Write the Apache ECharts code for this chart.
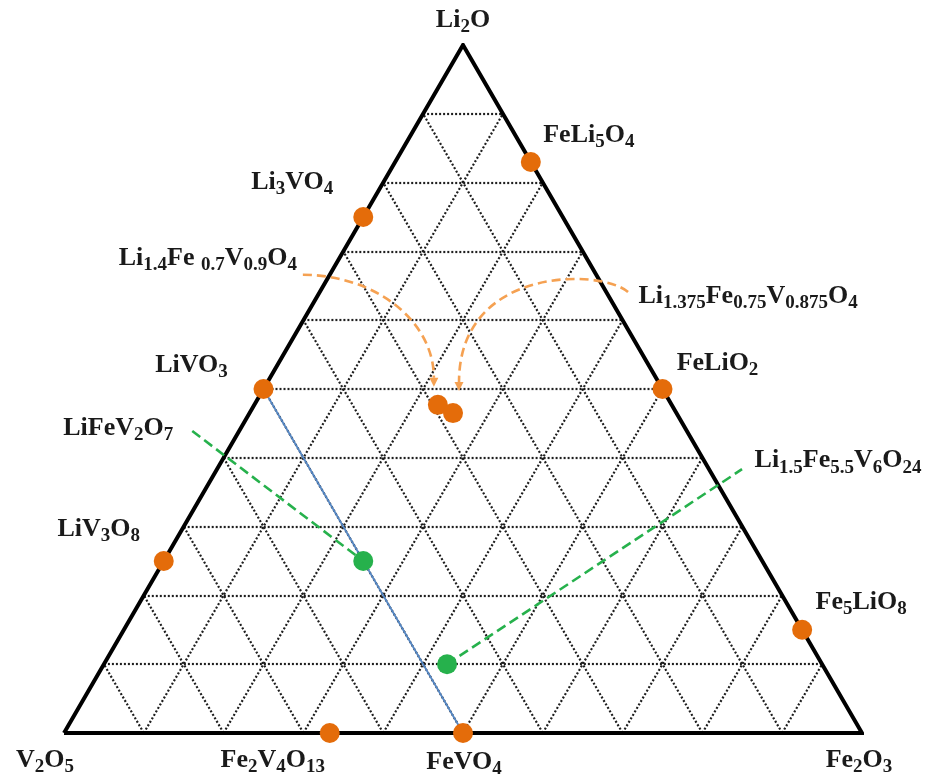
<!DOCTYPE html>
<html>
<head>
<meta charset="utf-8">
<script src="https://cdn.jsdelivr.net/npm/echarts@6/dist/echarts.min.js"></script>
<style>
  html, body { margin: 0; padding: 0; background: #ffffff; }
  #chart { width: 942px; height: 784px; }
</style>
</head>
<body>
<div id="chart"></div>
<script>
// Known phases of the Li2O–Fe2O3–V2O5 system, as mole fractions of the three end members
const compounds = ['Li3VO4', 'FeLi5O4', 'LiVO3', 'FeLiO2', 'LiV3O8', 'Fe5LiO8', 'Fe2V4O13', 'FeVO4',
                   'Li1.4Fe 0.7V0.9O4', 'Li1.375Fe0.75V0.875O4'];
const li2o  = [0.75, 0.83, 0.50, 0.50, 0.25, 0.15, 0.000, 0.00, 0.477, 0.465];
const fe2o3 = [0.00, 0.17, 0.00, 0.50, 0.00, 0.85, 0.333, 0.50, 0.230, 0.255];
const v2o5  = [0.25, 0.00, 0.50, 0.00, 0.75, 0.00, 0.667, 0.50, 0.293, 0.280];

// Newly identified phases
const newPhases = ['LiFeV2O7', 'Li1.5Fe5.5V6O24'];
const newLi2o   = [0.25, 0.10];
const newFe2o3  = [0.25, 0.43];
const newV2o5   = [0.50, 0.47];

// End members at the corners
const vertexNames = ['Li2O', 'V2O5', 'Fe2O3'];
const vertexLi2o  = [1, 0, 0];
const vertexFe2o3 = [0, 0, 1];
const vertexV2o5  = [0, 1, 0];

// Composition grid levels
const gridLevels = [0.1, 0.2, 0.3, 0.4, 0.5, 0.6, 0.7, 0.8, 0.9];

// Tie line between two phases
const tieLine = ['LiVO3', 'FeVO4'];

// ---- layout / styling ----
const ORANGE = '#E46C0A';
const ORANGE_DASH = '#F5A152';
const GREEN = '#26B14C';
const BLUE = '#5587C4';
const TEXT = '#1a1a1a';

// label centre offsets (px) from the marker centre
const labelOffset = {
  'Li2O': [0, -25], 'V2O5': [-19, 27], 'Fe2O3': [-3, 27],
  'Li3VO4': [-71, -35], 'FeLi5O4': [58, -27], 'LiVO3': [-72, -24], 'FeLiO2': [55, -26],
  'LiV3O8': [-65, -32], 'Fe5LiO8': [59, -28], 'Fe2V4O13': [-57, 27], 'FeVO4': [1, 29],
  'Li1.4Fe 0.7V0.9O4': [-230, -147], 'Li1.375Fe0.75V0.875O4': [295, -117],
  'LiFeV2O7': [-245, -133], 'Li1.5Fe5.5V6O24': [391, -204]
};

// callout connectors (px offsets from the marker centre)
const connectors = {
  'Li1.4Fe 0.7V0.9O4':     { kind: 'arc', start: [-135, -130], c1: [-63, -130], c2: [-4, -80], end: [-4, -18] },
  'Li1.375Fe0.75V0.875O4': { kind: 'arc', start: [175, -121], c1: [148, -145], c2: [6, -143], end: [6, -22] },
  'LiFeV2O7':              { kind: 'leader', start: [-171, -130], end: [0, 0] },
  'Li1.5Fe5.5V6O24':       { kind: 'leader', start: [0, 0], end: [295, -195] }
};

const H = Math.sqrt(3) / 2;
function toXY(li, fe, v) {
  const s = li + fe + v;
  li /= s; fe /= s;
  return [fe + li / 2, li * H];
}

// chemical formula -> rich text with numeric subscripts
function richFormula(name) {
  return name.replace(/([A-Za-z ]+)|([0-9.]+)/g, (m, a, b) => a ? '{n|' + a + '}' : '{s|' + b + '}');
}

const richStyles = {
  n: { fontFamily: 'Liberation Serif', fontWeight: 'bold', fontSize: 26, color: TEXT, lineHeight: 34 },
  s: { fontFamily: 'Liberation Serif', fontWeight: 'bold', fontSize: 19, color: TEXT, lineHeight: 19, verticalAlign: 'bottom' }
};

function pointItems(names, a, b, c) {
  return names.map((name, i) => ({
    name: name,
    value: toXY(a[i], b[i], c[i]),
    label: { offset: labelOffset[name] }
  }));
}

const labelBase = {
  show: true,
  position: 'inside',
  formatter: p => richFormula(p.name),
  rich: richStyles
};

// grid segments
const gridSegs = [];
gridLevels.forEach(t => {
  gridSegs.push({ coords: [toXY(t, 0, 1 - t), toXY(t, 1 - t, 0)] });   // constant Li2O
  gridSegs.push({ coords: [toXY(0, t, 1 - t), toXY(1 - t, t, 0)] });   // constant Fe2O3
  gridSegs.push({ coords: [toXY(0, 1 - t, t), toXY(1 - t, 0, t)] });   // constant V2O5
});

const triangle = [toXY(0, 0, 1), toXY(0, 1, 0), toXY(1, 0, 0), toXY(0, 0, 1)];

const idx = n => compounds.indexOf(n);
const tieData = tieLine.map(n => toXY(li2o[idx(n)], fe2o3[idx(n)], v2o5[idx(n)]));

const orangeItems = pointItems(compounds, li2o, fe2o3, v2o5);
const greenItems = pointItems(newPhases, newLi2o, newFe2o3, newV2o5);
const connectorItems = orangeItems.concat(greenItems)
  .filter(d => connectors[d.name])
  .map(d => ({ name: d.name, value: d.value }));

function renderConnector(params, api) {
  const item = connectorItems[params.dataIndex];
  const cfg = connectors[item.name];
  const p = api.coord([api.value(0), api.value(1)]);
  const at = o => [p[0] + o[0], p[1] + o[1]];
  if (cfg.kind === 'arc') {
    const s = at(cfg.start), c1 = at(cfg.c1), c2 = at(cfg.c2), e = at(cfg.end);
    const base = [e[0], e[1] - 9];
    return {
      type: 'group',
      children: [
        {
          type: 'bezierCurve',
          shape: { x1: s[0], y1: s[1], cpx1: c1[0], cpy1: c1[1], cpx2: c2[0], cpy2: c2[1] - 4, x2: base[0], y2: base[1] },
          style: { stroke: ORANGE_DASH, lineWidth: 2.6, lineDash: [9, 5], fill: null }
        },
        {
          type: 'polygon',
          shape: { points: [[base[0] - 4.5, base[1]], [base[0] + 4.5, base[1]], [e[0], e[1]]] },
          style: { fill: ORANGE_DASH }
        }
      ]
    };
  }
  const s = at(cfg.start), e = at(cfg.end);
  return {
    type: 'line',
    shape: { x1: s[0], y1: s[1], x2: e[0], y2: e[1] },
    style: { stroke: GREEN, lineWidth: 2.6, lineDash: [10, 5] }
  };
}

const chart = echarts.init(document.getElementById('chart'), null, { renderer: 'canvas' });
chart.setOption({
  backgroundColor: '#ffffff',
  animation: false,
  grid: { left: 64, right: 80, top: 45, bottom: 51 },
  xAxis: { type: 'value', min: 0, max: 1, show: false },
  yAxis: { type: 'value', min: 0, max: H, show: false },
  series: [
    {
      type: 'lines',
      coordinateSystem: 'cartesian2d',
      silent: true,
      z: 1,
      lineStyle: { color: '#1e1e1e', width: 2.2, type: [2, 2], opacity: 1 },
      data: gridSegs
    },
    {
      type: 'line',
      silent: true,
      z: 2,
      symbol: 'none',
      lineStyle: { color: '#000000', width: 4, join: 'miter' },
      data: triangle
    },
    {
      type: 'line',
      silent: true,
      z: 3,
      symbol: 'none',
      lineStyle: { color: BLUE, width: 1.8 },
      data: tieData
    },
    {
      type: 'custom',
      silent: true,
      z: 4,
      clip: false,
      renderItem: renderConnector,
      data: connectorItems.map(d => d.value)
    },
    {
      type: 'scatter',
      z: 5,
      symbolSize: 20,
      itemStyle: { color: ORANGE, opacity: 1 },
      label: labelBase,
      data: orangeItems
    },
    {
      type: 'scatter',
      z: 5,
      symbolSize: 20,
      itemStyle: { color: GREEN, opacity: 1 },
      label: labelBase,
      data: greenItems
    },
    {
      type: 'scatter',
      z: 5,
      symbolSize: 0,
      itemStyle: { color: TEXT, opacity: 1 },
      label: labelBase,
      data: pointItems(vertexNames, vertexLi2o, vertexFe2o3, vertexV2o5)
    }
  ]
});
</script>
</body>
</html>
